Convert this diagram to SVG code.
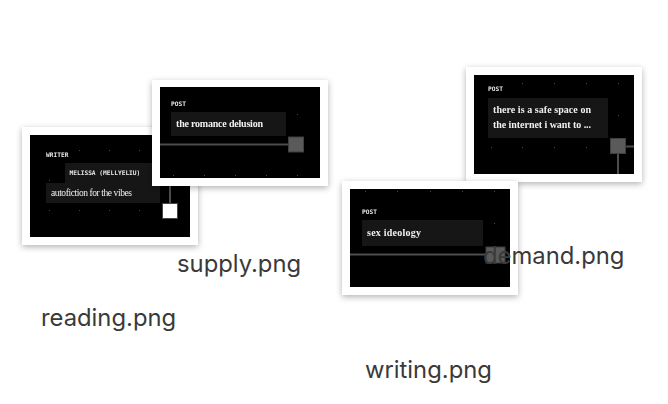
<svg xmlns="http://www.w3.org/2000/svg" width="668" height="404" viewBox="0 0 668 404">
<defs>
<filter id="sh" x="-15%" y="-15%" width="130%" height="135%"><feDropShadow dx="0" dy="2" stdDeviation="3" flood-color="#000" flood-opacity="0.3"/></filter>
<filter id="soft" x="-5%" y="-5%" width="110%" height="110%"><feGaussianBlur stdDeviation="0.4"/></filter>
</defs>
<style>
.card{fill:#fff;filter:url(#sh)}
.in{filter:url(#soft)}
.bg{fill:#000}
.box{fill:#171717}
.ln{stroke:#4d4d4d;stroke-width:2;fill:none}
.sq{fill:#5a5a5a;stroke:#3f3f3f;stroke-width:1}
.dot{fill:#444}
.mono{font-family:"DejaVu Sans Mono","Liberation Mono",monospace;font-size:6.2px;fill:#e8e8e8;font-weight:bold}
.post{font-family:"DejaVu Sans Mono","Liberation Mono",monospace;font-size:6.2px;fill:#e8e8e8;font-weight:bold}
.ser{font-family:"Liberation Serif",serif;font-weight:bold;fill:#f0f0f0;font-size:10px}
.lab{font-family:Inter,"Liberation Sans",Arial,sans-serif;font-size:23.800px;fill:#3a3a3a}
</style>
<g id="reading">
<rect class="card" x="22" y="127" width="176" height="118"/>
<rect class="bg" x="30" y="135" width="160" height="102"/>
<g class="in">
<g class="dot"><rect x="49" y="210" width="1" height="1"/><rect x="79" y="210" width="1" height="1"/><rect x="109" y="210" width="1" height="1"/><rect x="139" y="210" width="1" height="1"/><rect x="79" y="150" width="1" height="1"/><rect x="109" y="150" width="1" height="1"/><rect x="139" y="150" width="1" height="1"/><rect x="49" y="180" width="1" height="1"/></g>
<rect class="box" x="65" y="163" width="100" height="20"/>
<rect class="box" x="46" y="183" width="114" height="20"/>
<text class="mono" x="46" y="157">WRITER</text>
<text class="mono" x="69.500" y="175">MELISSA (MELLYELIU)</text>
<text class="ser" x="51" y="196" style="font-weight:normal;font-size:9.500px" textLength="81">autofiction for the vibes</text>
<path class="ln" d="M170 180V203"/>
<rect x="162.500" y="203.500" width="15" height="15" fill="#fff" stroke="#444"/>
</g>
</g>
<g id="supply">
<rect class="card" x="152" y="80" width="176" height="106"/>
<rect class="bg" x="160" y="87" width="160" height="91"/>
<g class="in">
<g class="dot"><rect x="297" y="114" width="1" height="1"/><rect x="173" y="175" width="1" height="1"/><rect x="204" y="175" width="1" height="1"/><rect x="235" y="175" width="1" height="1"/><rect x="266" y="175" width="1" height="1"/><rect x="297" y="175" width="1" height="1"/></g>
<rect class="box" x="171" y="112" width="115" height="24"/>
<text class="post" x="171" y="105.500">POST</text>
<text class="ser" x="176" y="127" textLength="87">the romance delusion</text>
<path class="ln" d="M160 144.500H289"/>
<rect class="sq" x="288.500" y="137" width="15" height="15"/>
</g>
</g>
<g id="demand">
<rect class="card" x="466" y="67" width="176" height="115"/>
<rect class="bg" x="474" y="75" width="160" height="99"/>
<g class="in">
<g class="dot"><rect x="522" y="83" width="1" height="1"/><rect x="554" y="83" width="1" height="1"/><rect x="586" y="83" width="1" height="1"/><rect x="618" y="83" width="1" height="1"/><rect x="618" y="115" width="1" height="1"/><rect x="491" y="147" width="1" height="1"/><rect x="522" y="147" width="1" height="1"/><rect x="554" y="147" width="1" height="1"/><rect x="586" y="147" width="1" height="1"/></g>
<rect class="box" x="488" y="98" width="120" height="40"/>
<text class="post" x="488" y="91">POST</text>
<text class="ser" x="493" y="113" textLength="98">there is a safe space on</text>
<text class="ser" x="493" y="128" textLength="98">the internet i want to ...</text>
<path class="ln" d="M618 154V174M626 146.500H634"/>
<rect class="sq" x="610.500" y="138.500" width="15" height="15"/>
</g>
</g>
<g id="writing">
<rect class="card" x="342" y="181" width="176" height="114"/>
<rect class="bg" x="350" y="189" width="160" height="98"/>
<g class="in">
<g class="dot"><rect x="365" y="191" width="1" height="1"/><rect x="397" y="191" width="1" height="1"/><rect x="430" y="191" width="1" height="1"/><rect x="462" y="191" width="1" height="1"/><rect x="494" y="191" width="1" height="1"/><rect x="494" y="223" width="1" height="1"/></g>
<rect class="box" x="362" y="220" width="121" height="26"/>
<text class="post" x="362" y="213.500">POST</text>
<text class="ser" x="367" y="236" textLength="54">sex ideology</text>
<path class="ln" d="M350 254.500H486"/>
<rect class="sq" x="486" y="247" width="19" height="16"/>
</g>
</g>
<g id="labels">
<text class="lab" x="177" y="272">supply.png</text>
<text class="lab" x="41" y="326">reading.png</text>
<text class="lab" x="365" y="378">writing.png</text>
<text class="lab" x="483" y="264">demand.png</text>
</g>
</svg>
